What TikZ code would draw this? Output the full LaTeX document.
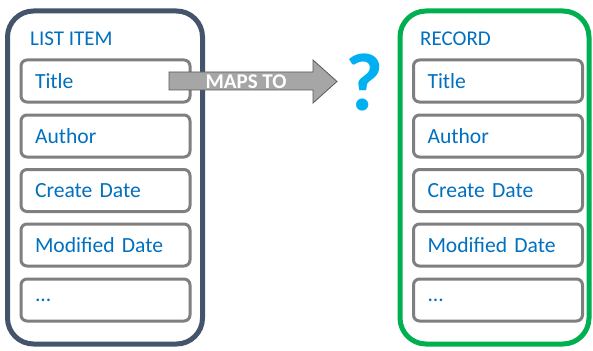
\documentclass[tikz,border=0pt]{standalone}
\usepackage{fontspec}
\setmainfont{Carlito}
\definecolor{slate}{HTML}{44546A}
\definecolor{grn}{HTML}{00B050}
\definecolor{boxgray}{HTML}{7F7F7F}
\definecolor{txtblue}{HTML}{0070C0}
\definecolor{qblue}{HTML}{00B0F0}
\definecolor{arrfill}{HTML}{A6A6A6}
\definecolor{arrline}{HTML}{595959}
\tikzset{
  outerbox/.style={line width=5pt, rounded corners=26pt},
  fieldbox/.style={draw=boxgray, line width=3pt, rounded corners=6pt, minimum width=169pt, minimum height=42pt, text width=141pt, inner xsep=14pt, align=left, text=txtblue, font=\fontsize{21.6}{25}\selectfont},
  heading/.style={anchor=base west, inner sep=0pt, text=txtblue, font=\fontsize{21}{25}\selectfont}
}
\begin{document}
\begin{tikzpicture}[x=1pt,y=-1pt]
\path[use as bounding box, fill=white] (0,0) rectangle (593,350);
% outer containers
\draw[outerbox, draw=slate] (7.5,11) rectangle (202.5,344);
\draw[outerbox, draw=grn] (400,11) rectangle (589,344);
% headings
\node[heading] (lh) at (30,46) {LIST ITEM};
\node[heading] (rh) at (420,46) {RECORD};
% left fields
\node[fieldbox] (l1) at (105.5,81) {Title};
\node[fieldbox] (l2) at (105.5,136) {Author};
\node[fieldbox] (l3) at (105.5,190.5) {Create Date};
\node[fieldbox] (l4) at (105.5,245) {Modified Date};
\node[fieldbox] (l5) at (105.5,300) {...};
% right fields
\node[fieldbox] (r1) at (498,81) {Title};
\node[fieldbox] (r2) at (498,136) {Author};
\node[fieldbox] (r3) at (498,190.5) {Create Date};
\node[fieldbox] (r4) at (498,245) {Modified Date};
\node[fieldbox] (r5) at (498,300) {...};
% arrow
\draw[fill=arrfill, draw=arrline, line width=0.8pt] (169,72)--(313,72)--(313,60)--(337,81.5)--(313,103)--(313,90)--(169,90)--cycle;
\node[text=white, font=\fontsize{21}{24}\bfseries\selectfont, inner sep=0pt] (maps) at (246,82) {MAPS TO};
% question mark
\node[text=qblue, font=\fontsize{82}{82}\bfseries\selectfont, inner sep=0pt] (q) at (364,82) {?};
\end{tikzpicture}
\end{document}
